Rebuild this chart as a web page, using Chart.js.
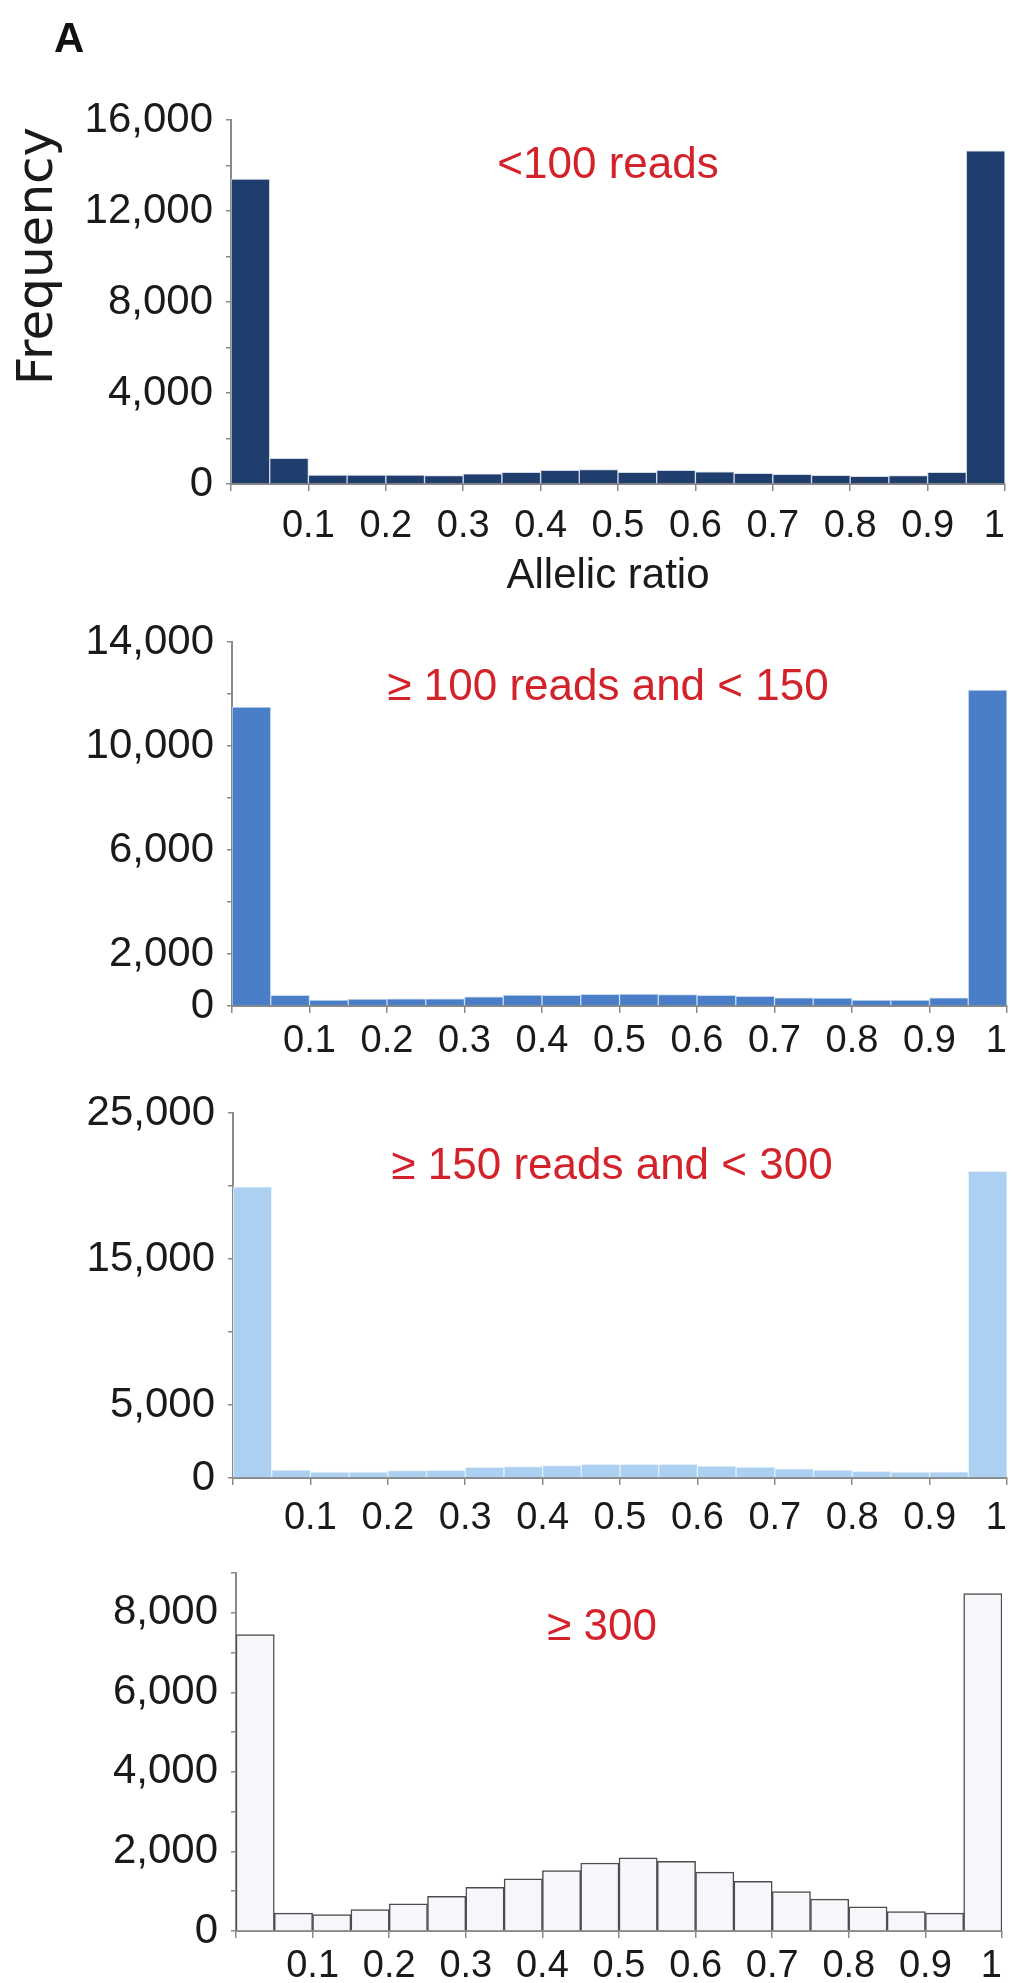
<!DOCTYPE html>
<html>
<head>
<meta charset="utf-8">
<script src="https://cdn.jsdelivr.net/npm/chart.js@4"></script>
<style>
  html, body { margin: 0; padding: 0; background: #fff; }
  body { width: 1012px; height: 1983px; position: relative; overflow: hidden; }
  .panel { position: absolute; left: 0; width: 1012px; }
</style>
</head>
<body>
<div class="panel" style="top:0;height:600px"><canvas id="reads-lt100"></canvas></div>
<div class="panel" style="top:600px;height:470px"><canvas id="reads-100-150"></canvas></div>
<div class="panel" style="top:1060px;height:490px"><canvas id="reads-150-300"></canvas></div>
<div class="panel" style="top:1520px;height:463px"><canvas id="reads-ge300"></canvas></div>
<script>
document.addEventListener('DOMContentLoaded', () => {

  // data

  // allelic ratio bins, width 0.05 (centres)
  const binCenters = [0.025, 0.075, 0.125, 0.175, 0.225, 0.275, 0.325, 0.375, 0.425, 0.475,
    0.525, 0.575, 0.625, 0.675, 0.725, 0.775, 0.825, 0.875, 0.925, 0.975];

  const xTickLabels = ['', '0.1', '0.2', '0.3', '0.4', '0.5', '0.6', '0.7', '0.8', '0.9', '1'];

  const countsLt100 = [13400, 1130, 390, 390, 390, 370, 450, 510, 600, 630,
    510, 600, 540, 470, 420, 380, 340, 370, 510, 14650];
  const counts100to150 = [11500, 410, 230, 270, 280, 280, 350, 420, 410, 450,
    460, 440, 410, 370, 310, 300, 230, 230, 310, 12150];
  const counts150to300 = [19950, 550, 410, 410, 500, 530, 730, 780, 850, 940,
    940, 940, 820, 750, 620, 550, 460, 410, 430, 21000];
  const countsGe300 = [7450, 450, 410, 540, 680, 870, 1100, 1310, 1520, 1710,
    1840, 1750, 1480, 1250, 990, 800, 610, 490, 450, 8480];

  const yLabelsLt100 = [0, 4000, 8000, 12000, 16000];
  const yLabels100to150 = [0, 2000, 6000, 10000, 14000];
  const yLabels150to300 = [0, 5000, 15000, 25000];
  const yLabelsGe300 = [0, 2000, 4000, 6000, 8000];

  // styles

  const axisGrey = '#8a8a8a';
  const red = '#d3222a';
  const sans = "'Liberation Sans', Arial, sans-serif";

  // draws the panel captions and axis titles
  const panelText = {
    id: 'panelText',
    afterDraw(chart, args, opts) {
      const ctx = chart.ctx;
      (opts.items || []).forEach(t => {
        ctx.save();
        ctx.font = t.font;
        ctx.fillStyle = t.color;
        ctx.textAlign = t.align || 'center';
        ctx.textBaseline = 'alphabetic';
        ctx.translate(t.x, t.y);
        if (t.rotate) ctx.rotate(t.rotate);
        ctx.fillText(t.text, 0, 0);
        ctx.restore();
      });
    }
  };

  function makePanel(id, p) {
    return new Chart(document.getElementById(id), {
      type: 'bar',
      data: {
        datasets: [{
          data: binCenters.map((x, i) => ({ x: x, y: p.counts[i] })),
          backgroundColor: p.fill,
          borderColor: p.stroke,
          borderWidth: p.strokeWidth,
          barPercentage: 1,
          categoryPercentage: 1
        }]
      },
      options: {
        responsive: true,
        maintainAspectRatio: false,
        animation: false,
        layout: { padding: { top: p.box.top, right: p.box.right, bottom: 0, left: 0 } },
        plugins: {
          legend: { display: false },
          tooltip: { enabled: false },
          panelText: { items: p.texts }
        },
        scales: {
          x: {
            type: 'linear',
            min: 0,
            max: 1,
            offset: false,
            grid: { offset: false, drawOnChartArea: false, tickLength: 7, color: axisGrey, lineWidth: 1.5 },
            border: { color: axisGrey, width: 2 },
            ticks: {
              stepSize: 0.1,
              autoSkip: false,
              maxRotation: 0,
              padding: p.box.labelGap,
              color: '#1a1a1a',
              font: { family: sans, size: 38 },
              // the last label sits just inside the axis end, as in the original
              callback: (v, i) => i === xTickLabels.length - 1 ? xTickLabels[i] + '\u2007' : xTickLabels[i]
            },
            afterFit: axis => {
              axis.height = p.box.xHeight;
              axis.paddingLeft = 0;
              axis.paddingRight = 0;
            }
          },
          y: {
            min: 0,
            max: p.yMax,
            grid: { drawOnChartArea: false, tickLength: 5, color: axisGrey, lineWidth: 1.5 },
            border: { color: axisGrey, width: 2 },
            ticks: {
              stepSize: p.yStep,
              autoSkip: false,
              padding: 13,
              color: '#1a1a1a',
              font: { family: sans, size: 42 },
              callback: v => p.yLabels.includes(v) ? v.toLocaleString('en-US') : ''
            },
            afterFit: axis => {
              axis.width = p.box.left;
              axis.paddingTop = 0;
              axis.paddingBottom = 0;
            }
          }
        }
      },
      plugins: [panelText]
    });
  }

  // charts

  makePanel('reads-lt100', {
    counts: countsLt100, yMax: 16000, yStep: 2000, yLabels: yLabelsLt100,
    fill: '#1f3e6e', stroke: '#d4dbe6', strokeWidth: 1,
    box: { top: 120, right: 7, left: 231, xHeight: 116, labelGap: 13 },
    texts: [
      { text: '<100 reads', x: 608, y: 178, font: '44px ' + sans, color: red },
      { text: 'Allelic ratio', x: 608, y: 588, font: '42px ' + sans, color: '#1a1a1a' },
      { text: 'Frequency', x: 52, y: 256, rotate: -Math.PI / 2, font: "50px 'DejaVu Sans', sans-serif", color: '#1a1a1a' },
      { text: 'A', x: 54, y: 52, align: 'left', font: 'bold 42px ' + sans, color: '#111' }
    ]
  });

  makePanel('reads-100-150', {
    counts: counts100to150, yMax: 14000, yStep: 2000, yLabels: yLabels100to150,
    fill: '#4a7fc8', stroke: '#c9daf0', strokeWidth: 1,
    box: { top: 42, right: 5, left: 232, xHeight: 64, labelGap: 6 },
    texts: [
      { text: '\u2265 100 reads and < 150', x: 608, y: 100, font: '44px ' + sans, color: red }
    ]
  });

  makePanel('reads-150-300', {
    counts: counts150to300, yMax: 25000, yStep: 5000, yLabels: yLabels150to300,
    fill: '#abd0f1', stroke: '#e6f0fa', strokeWidth: 1,
    box: { top: 53, right: 5, left: 233, xHeight: 72, labelGap: 11 },
    texts: [
      { text: '\u2265 150 reads and < 300', x: 612, y: 119, font: '44px ' + sans, color: red }
    ]
  });

  makePanel('reads-ge300', {
    counts: countsGe300, yMax: 9000, yStep: 1000, yLabels: yLabelsGe300,
    fill: '#f5f7fa', stroke: '#4d4d4d', strokeWidth: 1.5,
    box: { top: 53, right: 10, left: 236, xHeight: 52, labelGap: 6 },
    texts: [
      { text: '\u2265 300', x: 602, y: 120, font: '44px ' + sans, color: red }
    ]
  });
});
</script>
</body>
</html>
